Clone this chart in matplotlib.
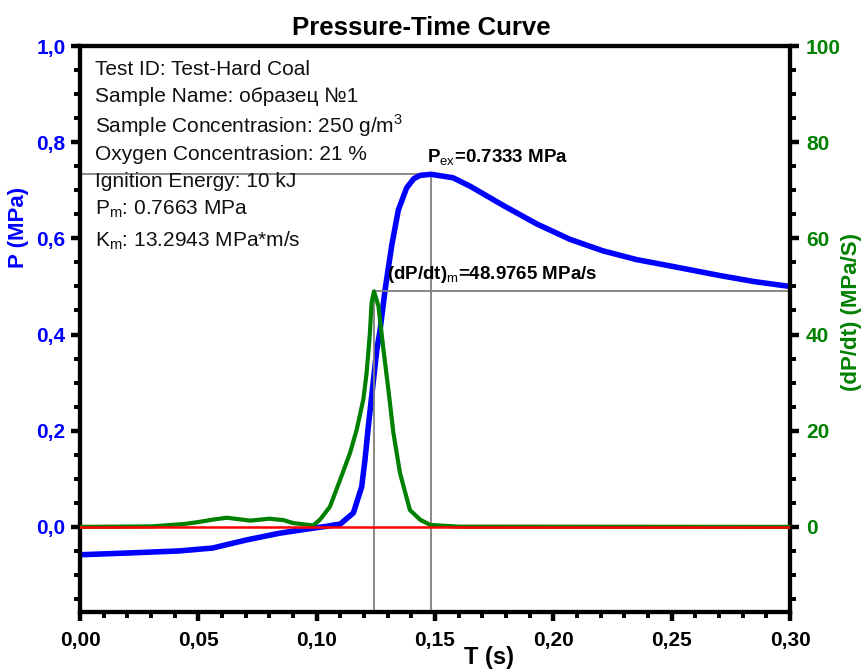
import matplotlib
matplotlib.use("Agg")
import matplotlib.pyplot as plt
from matplotlib.ticker import MultipleLocator, FuncFormatter

plt.rcParams['font.family'] = ['Liberation Sans', 'DejaVu Sans']
plt.rcParams['mathtext.fontset'] = 'custom'
plt.rcParams['mathtext.rm'] = 'Liberation Sans'
plt.rcParams['mathtext.bf'] = 'Liberation Sans:bold'

# pressure curve (s, MPa)
t_p = [0, 0.022, 0.042, 0.056, 0.0705, 0.0845, 0.098, 0.104, 0.11, 0.1155,
       0.119, 0.1204, 0.1218, 0.1232, 0.1254, 0.1268, 0.1289, 0.1317, 0.1345,
       0.138, 0.141, 0.1437, 0.1483, 0.1576, 0.165, 0.179, 0.193, 0.207,
       0.221, 0.235, 0.249, 0.27, 0.285, 0.30]
p = [-0.058, -0.054, -0.050, -0.044, -0.027, -0.013, -0.003, 0.001, 0.006, 0.029,
     0.083, 0.139, 0.208, 0.27, 0.368, 0.41, 0.493, 0.585, 0.659,
     0.705, 0.724, 0.731, 0.7333, 0.726, 0.708, 0.668, 0.630, 0.598,
     0.574, 0.556, 0.543, 0.523, 0.51, 0.50]

# rate of pressure rise (s, MPa/s)
t_d = [0, 0.03, 0.044, 0.05, 0.056, 0.062, 0.067, 0.072, 0.080, 0.086, 0.09,
       0.0985, 0.1014, 0.1056, 0.1099, 0.1141, 0.1169, 0.1197, 0.1211, 0.1225,
       0.1232, 0.1242, 0.1261, 0.1282, 0.1303, 0.1324, 0.1352, 0.1394, 0.1437,
       0.148, 0.16, 0.30]
dpdt = [0, 0.1, 0.6, 1.0, 1.5, 1.9, 1.6, 1.3, 1.7, 1.4, 0.8,
        0.3, 1.5, 4.2, 9.8, 15.4, 20.2, 26.5, 32.0, 40.4,
        46.6, 48.9765, 45.9, 36.9, 28.5, 19.6, 11.2, 3.5, 1.5,
        0.4, 0.05, 0]

p_ex, t_ex = 0.7333, 0.1483
dpdt_m, t_m = 48.9765, 0.1242

info = ["Test ID: Test-Hard Coal",
        "Sample Name: образец №1",
        "Sample Concentrasion: 250 g/m$^3$",
        "Oxygen Concentrasion: 21 %",
        "Ignition Energy: 10 kJ",
        "P$_\\mathrm{m}$: 0.7663 MPa",
        "K$_\\mathrm{m}$: 13.2943 MPa*m/s"]
info_y = [0.949, 0.901, 0.847, 0.799, 0.751, 0.702, 0.646]

blue = '#0000ff'
green = '#008000'

fig = plt.figure(figsize=(8.64, 6.72), dpi=100)
ax = fig.add_axes([0.0926, 0.0893, 0.8218, 0.8422])
ax2 = ax.twinx()

ax.set_xlim(0, 0.30)
ax.set_ylim(-0.177, 1.0)
ax2.set_ylim(-17.7, 100)

ax.plot(t_p, p, color=blue, lw=4, zorder=3, solid_capstyle='round')
ax2.plot(t_d, dpdt, color=green, lw=3.0, zorder=3)
ax2.axhline(0, color='red', lw=1.8, zorder=4)

# marker lines
g = '#808080'
ax.plot([0, t_ex], [p_ex, p_ex], color=g, lw=1.3, zorder=2)
ax.plot([t_ex, t_ex], [-0.177, p_ex], color=g, lw=1.3, zorder=2)
ax2.plot([t_m, 0.30], [dpdt_m, dpdt_m], color=g, lw=1.3, zorder=2)
ax2.plot([t_m, t_m], [-17.7, dpdt_m], color=g, lw=1.3, zorder=2)

ax.text(t_ex - 0.0015, p_ex + 0.025, "P$_\\mathrm{ex}$=0.7333 MPa", fontsize=13.5,
        fontweight='bold', ha='left', va='baseline')
ax2.text(t_m + 0.0055, dpdt_m + 2.5, "(dP/dt)$_\\mathrm{m}$=48.9765 MPa/s",
         fontsize=13.5, fontweight='bold', ha='left', va='baseline')

for s, y in zip(info, info_y):
    ax.text(0.021, y, s, transform=ax.transAxes, fontsize=15,
            ha='left', va='baseline', color='#111111')

fmt2 = FuncFormatter(lambda v, pos: f"{v:.2f}".replace('.', ','))
fmt1 = FuncFormatter(lambda v, pos: f"{v:.1f}".replace('.', ','))
ax.xaxis.set_major_locator(MultipleLocator(0.05))
ax.xaxis.set_minor_locator(MultipleLocator(0.01))
ax.xaxis.set_major_formatter(fmt2)
ax.yaxis.set_major_locator(MultipleLocator(0.2))
ax.yaxis.set_minor_locator(MultipleLocator(0.05))
ax.yaxis.set_major_formatter(fmt1)
ax2.yaxis.set_major_locator(MultipleLocator(20))
ax2.yaxis.set_minor_locator(MultipleLocator(5))

for a in (ax, ax2):
    for s in a.spines.values():
        s.set_linewidth(3)
    a.tick_params(which='major', length=6.5, width=3.2, direction='out')
    a.tick_params(which='minor', length=4.5, width=2.8, direction='out')

ax.tick_params(axis='x', labelsize=15, pad=7)
ax.tick_params(axis='y', labelsize=15, labelcolor=blue, pad=4)
ax2.tick_params(axis='y', labelsize=15, labelcolor=green, pad=5)
for lab in ax.get_xticklabels() + ax.get_yticklabels() + ax2.get_yticklabels():
    lab.set_fontweight('bold')

fig.text(0.0215, 0.662, "P (MPa)", color=blue, fontsize=16, fontweight='bold',
         rotation=90, ha='center', va='center')
fig.text(0.986, 0.536, "(dP/dt) (MPa/S)", color=green, fontsize=16,
         fontweight='bold', rotation=90, ha='center', va='center')
fig.text(0.566, 0.021, "T (s)", fontsize=17, fontweight='bold',
         ha='center', va='center')
fig.text(0.488, 0.948, "Pressure-Time Curve", fontsize=18.5, fontweight='bold',
         ha='center', va='baseline')

fig.savefig("out.png", dpi=100)
